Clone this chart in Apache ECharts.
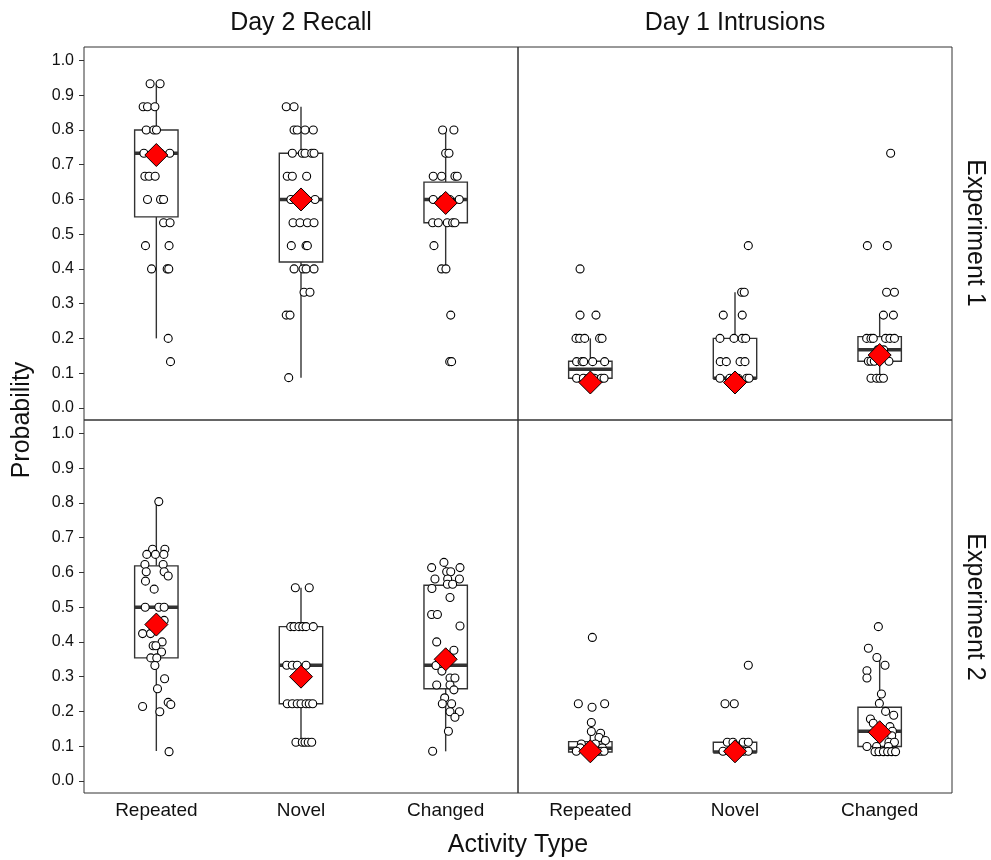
<!DOCTYPE html>
<html><head><meta charset="utf-8">
<script src="https://cdn.jsdelivr.net/npm/echarts@6/dist/echarts.min.js"></script>
<style>html,body{margin:0;padding:0;background:#fff}#c{width:991px;height:860px}</style>
</head><body><div id="c"></div>
<script>
const categories = ['Repeated', 'Novel', 'Changed'];
const columnLabels = ['Day 2 Recall', 'Day 1 Intrusions'];
const rowLabels = ['Experiment 1', 'Experiment 2'];
const yTicks = [0, 0.1, 0.2, 0.3, 0.4, 0.5, 0.6, 0.7, 0.8, 0.9, 1.0];
const xTitle = 'Activity Type';
const yTitle = 'Probability';

// box stats per category: [lower whisker, Q1, median, Q3, upper whisker]
const e1RecallBoxes = [[0.2, 0.55, 0.733, 0.8, 0.933], [0.087, 0.42, 0.6, 0.733, 0.867], [0.4, 0.533, 0.6, 0.65, 0.8]];
const e1IntrBoxes = [[0.085, 0.085, 0.111, 0.134, 0.2], [0.085, 0.085, 0.085, 0.2, 0.333], [0.085, 0.134, 0.167, 0.205, 0.267]];
const e2RecallBoxes = [[0.086, 0.354, 0.5, 0.619, 0.8], [0.111, 0.222, 0.333, 0.444, 0.556], [0.085, 0.265, 0.333, 0.563, 0.629]];
const e2IntrBoxes = [[0.083, 0.083, 0.094, 0.113, 0.142], [0.083, 0.083, 0.083, 0.111, 0.111], [0.084, 0.099, 0.143, 0.212, 0.355]];

// means per category
const e1RecallMeans = [0.728, 0.6, 0.59];
const e1IntrMeans = [0.073, 0.073, 0.152];
const e2RecallMeans = [0.45, 0.3, 0.35];
const e2IntrMeans = [0.085, 0.085, 0.14];

// individual points: [value, horizontal jitter in category units]
const e1RecallRepeated = [[0.933,-0.043],[0.933,0.026],[0.867,-0.091],[0.867,-0.061],[0.867,-0.010],[0.8,-0.070],[0.8,-0.017],[0.8,0.001],[0.733,-0.086],[0.733,0.093],[0.733,-0.020],[0.733,0.028],[0.667,-0.079],[0.667,-0.050],[0.667,-0.008],[0.6,-0.061],[0.6,0.029],[0.6,0.050],[0.533,0.050],[0.533,0.095],[0.467,-0.075],[0.467,0.088],[0.4,-0.033],[0.4,0.075],[0.4,0.086],[0.2,0.082],[0.133,0.098]];
const e1RecallNovel = [[0.867,-0.102],[0.867,-0.048],[0.8,-0.048],[0.8,-0.026],[0.8,0.028],[0.8,0.085],[0.733,-0.060],[0.733,0.009],[0.733,0.028],[0.733,0.074],[0.733,0.090],[0.667,-0.095],[0.667,-0.060],[0.667,0.039],[0.6,-0.070],[0.6,0.097],[0.533,-0.055],[0.533,-0.007],[0.533,0.044],[0.533,0.090],[0.467,-0.067],[0.467,0.035],[0.467,0.044],[0.4,-0.048],[0.4,0.014],[0.4,0.035],[0.4,0.090],[0.333,0.021],[0.333,0.062],[0.267,-0.102],[0.267,-0.076],[0.087,-0.085]];
const e1RecallChanged = [[0.8,-0.021],[0.8,0.057],[0.733,0],[0.733,0.023],[0.667,-0.086],[0.667,-0.028],[0.667,0.064],[0.667,0.080],[0.6,-0.086],[0.6,0.094],[0.6,-0.021],[0.6,0.028],[0.533,-0.090],[0.533,-0.051],[0.533,0.011],[0.533,0.048],[0.533,0.064],[0.467,-0.081],[0.4,-0.028],[0.4,0.002],[0.267,0.035],[0.133,0.028],[0.133,0.041]];
const e1IntrRepeated = [[0.4,-0.071],[0.267,-0.071],[0.267,0.039],[0.2,-0.099],[0.2,-0.074],[0.2,-0.039],[0.2,0.064],[0.2,0.081],[0.133,-0.095],[0.133,-0.057],[0.133,-0.046],[0.133,0.016],[0.133,0.099],[0.085,-0.095],[0.085,-0.048],[0.085,-0.014],[0.085,0.028],[0.085,0.076],[0.085,0.095]];
const e1IntrNovel = [[0.467,0.092],[0.333,0.046],[0.333,0.064],[0.267,-0.081],[0.267,0.050],[0.2,-0.104],[0.2,-0.007],[0.2,0.050],[0.2,0.074],[0.133,-0.102],[0.133,-0.060],[0.133,0.035],[0.133,0.069],[0.085,-0.104],[0.085,0.081],[0.085,0.097],[0.085,-0.035],[0.085,0.021]];
const e1IntrChanged = [[0.733,0.076],[0.467,-0.085],[0.467,0.053],[0.333,0.048],[0.333,0.102],[0.267,0.026],[0.267,0.095],[0.2,-0.090],[0.2,-0.060],[0.2,-0.044],[0.2,0.041],[0.2,0.071],[0.2,0.102],[0.167,-0.014],[0.167,0.028],[0.134,-0.078],[0.134,-0.060],[0.134,-0.037],[0.134,0.064],[0.085,-0.060],[0.085,-0.021],[0.085,0.002],[0.085,0.026]];
const e2RecallRepeated = [[0.804,0.017],[0.667,-0.026],[0.667,0.059],[0.652,-0.066],[0.652,-0.006],[0.652,0.052],[0.623,-0.079],[0.623,0.047],[0.602,-0.070],[0.602,0.054],[0.59,0.082],[0.575,-0.075],[0.552,-0.015],[0.5,-0.077],[0.5,0.017],[0.5,0.054],[0.462,0.054],[0.444,-0.021],[0.444,0.021],[0.424,-0.095],[0.424,-0.040],[0.4,0.040],[0.389,-0.022],[0.389,-0.003],[0.371,0.036],[0.354,-0.038],[0.354,0.003],[0.332,-0.010],[0.294,0.057],[0.265,0.008],[0.226,0.082],[0.22,0.100],[0.214,-0.095],[0.199,0.024],[0.084,0.088]];
const e2RecallNovel = [[0.556,-0.039],[0.556,0.057],[0.444,-0.071],[0.444,-0.048],[0.444,-0.014],[0.444,0.012],[0.444,0.035],[0.444,0.085],[0.333,-0.099],[0.333,-0.060],[0.333,-0.026],[0.333,0.035],[0.222,-0.095],[0.222,-0.060],[0.222,-0.026],[0.222,0],[0.222,0.035],[0.222,0.057],[0.222,0.081],[0.111,-0.035],[0.111,0.009],[0.111,0.028],[0.111,0.050],[0.111,0.074]];
const e2RecallChanged = [[0.629,-0.012],[0.614,-0.097],[0.614,0.099],[0.602,0.007],[0.602,0.035],[0.581,-0.074],[0.581,0.014],[0.581,0.095],[0.566,0.012],[0.566,0.048],[0.554,-0.095],[0.528,0.030],[0.479,-0.097],[0.479,-0.057],[0.446,0.099],[0.4,-0.062],[0.376,0.057],[0.353,0.035],[0.333,-0.041],[0.332,-0.067],[0.316,-0.026],[0.296,0.030],[0.296,0.064],[0.276,-0.062],[0.276,0.030],[0.262,0.057],[0.239,-0.007],[0.222,-0.023],[0.222,0.041],[0.199,0.030],[0.199,0.095],[0.183,0.064],[0.143,0.019],[0.085,-0.090]];
const e2IntrRepeated = [[0.413,0.014],[0.222,-0.083],[0.222,0.099],[0.212,0.012],[0.168,0.007],[0.142,0.007],[0.137,0.071],[0.125,0.060],[0.116,0.104],[0.106,-0.062],[0.106,0.035],[0.095,-0.069],[0.095,0.083],[0.085,-0.097],[0.085,-0.028],[0.085,0.028],[0.085,0.055],[0.085,0.076],[0.085,0.095]];
const e2IntrNovel = [[0.333,0.092],[0.222,-0.069],[0.222,-0.005],[0.111,-0.053],[0.111,-0.014],[0.111,0.057],[0.111,0.092],[0.085,-0.083],[0.085,-0.041],[0.085,0.035],[0.085,0.062],[0.085,0.092]];
const e2IntrChanged = [[0.444,-0.009],[0.382,-0.078],[0.355,-0.019],[0.333,0.037],[0.317,-0.088],[0.296,-0.088],[0.25,0.012],[0.223,-0.002],[0.2,0.041],[0.189,0.097],[0.178,-0.064],[0.166,-0.044],[0.156,0.071],[0.143,0.088],[0.13,0.083],[0.111,0.064],[0.111,0.102],[0.099,-0.088],[0.099,-0.021],[0.099,0.060],[0.084,-0.032],[0.084,-0.005],[0.084,0.026],[0.084,0.055],[0.084,0.083],[0.084,0.11]];

const panels = [
  { boxes: e1RecallBoxes, means: e1RecallMeans, points: [e1RecallRepeated, e1RecallNovel, e1RecallChanged] },
  { boxes: e1IntrBoxes, means: e1IntrMeans, points: [e1IntrRepeated, e1IntrNovel, e1IntrChanged] },
  { boxes: e2RecallBoxes, means: e2RecallMeans, points: [e2RecallRepeated, e2RecallNovel, e2RecallChanged] },
  { boxes: e2IntrBoxes, means: e2IntrMeans, points: [e2IntrRepeated, e2IntrNovel, e2IntrChanged] }
];

const FONT = '"Liberation Sans", Arial, sans-serif';
const gridPos = [
  { left: 84, top: 47 }, { left: 518, top: 47 },
  { left: 84, top: 420 }, { left: 518, top: 420 }
];

const grid = gridPos.map(g => ({
  left: g.left, top: g.top, width: 434, height: 373,
  show: true, borderColor: '#333', borderWidth: 1, backgroundColor: 'transparent'
}));

const xAxis = [];
panels.forEach((p, i) => {
  xAxis.push({
    type: 'category', gridIndex: i, data: categories, boundaryGap: true, position: 'bottom',
    axisLine: { show: false, onZero: false }, axisTick: { show: false }, splitLine: { show: false },
    axisLabel: { show: i >= 2, fontSize: 19, color: '#111', margin: 8, fontFamily: FONT }
  });
});
panels.forEach((p, i) => {
  xAxis.push({ type: 'value', gridIndex: i, min: -0.5, max: 2.5, show: false,
    axisLine: { onZero: false } });
});

const yAxis = panels.map((p, i) => ({
  type: 'value', gridIndex: i, min: -0.035, max: 1.039, position: 'left',
  axisLine: { show: false, onZero: false }, splitLine: { show: false },
  axisTick: { show: i % 2 === 0, length: 5, lineStyle: { color: '#333', width: 1 }, customValues: yTicks },
  axisLabel: { show: i % 2 === 0, customValues: yTicks, formatter: v => Number(v).toFixed(1),
    fontSize: 16, color: '#111', margin: 10, fontFamily: FONT }
}));

function renderBox(params, api) {
  const k = api.value(0);
  const c = v => api.coord([k, v]);
  const bw = api.size([1, 0])[0] * 0.3;
  const pMin = c(api.value(1)), pQ1 = c(api.value(2)), pMed = c(api.value(3)),
        pQ3 = c(api.value(4)), pMax = c(api.value(5));
  const x = pMed[0];
  const ls = { stroke: '#333', lineWidth: 1.4 };
  return {
    type: 'group', children: [
      { type: 'line', shape: { x1: x, y1: pMax[1], x2: x, y2: pQ3[1] }, style: ls },
      { type: 'line', shape: { x1: x, y1: pQ1[1], x2: x, y2: pMin[1] }, style: ls },
      { type: 'rect', shape: { x: x - bw / 2, y: pQ3[1], width: bw, height: pQ1[1] - pQ3[1] },
        style: { fill: '#fff', stroke: '#333', lineWidth: 1.4 } },
      { type: 'line', shape: { x1: x - bw / 2, y1: pMed[1], x2: x + bw / 2, y2: pMed[1] },
        style: { stroke: '#333', lineWidth: 3.5 } }
    ]
  };
}

const series = [];
panels.forEach((p, i) => {
  series.push({
    type: 'custom', xAxisIndex: i, yAxisIndex: i, z: 1, silent: true,
    renderItem: renderBox,
    encode: { x: 0, y: [1, 2, 3, 4, 5] },
    data: p.boxes.map((b, k) => [k].concat(b))
  });
  const pts = [];
  p.points.forEach((arr, k) => arr.forEach(d => pts.push([k + d[1], d[0]])));
  series.push({
    type: 'scatter', xAxisIndex: 4 + i, yAxisIndex: i, z: 2, silent: true,
    symbol: 'circle', symbolSize: 8,
    itemStyle: { color: '#fff', borderColor: '#000', borderWidth: 1.1, opacity: 1 },
    data: pts
  });
  series.push({
    type: 'scatter', xAxisIndex: i, yAxisIndex: i, z: 3, silent: true,
    symbol: 'diamond', symbolSize: 23,
    itemStyle: { color: '#ff0000', borderColor: '#000', borderWidth: 1, opacity: 1 },
    data: p.means.map((m, k) => [k, m])
  });
});

const txt = (text, x, y, rot) => ({
  type: 'text', x: x, y: y, rotation: rot || 0,
  style: { text: text, fontSize: 25, fontFamily: FONT, fill: '#111', textAlign: 'center', textVerticalAlign: 'middle' }
});

const graphic = [
  txt(columnLabels[0], 301, 23),
  txt(columnLabels[1], 735, 23),
  txt(rowLabels[0], 975, 233, -Math.PI / 2),
  txt(rowLabels[1], 975, 607, -Math.PI / 2),
  txt(yTitle, 22, 420, Math.PI / 2),
  txt(xTitle, 518, 845)
];

const chart = echarts.init(document.getElementById('c'), null, { renderer: 'canvas' });
chart.setOption({ animation: false, backgroundColor: '#fff', grid, xAxis, yAxis, series, graphic });
</script>
</body></html>
